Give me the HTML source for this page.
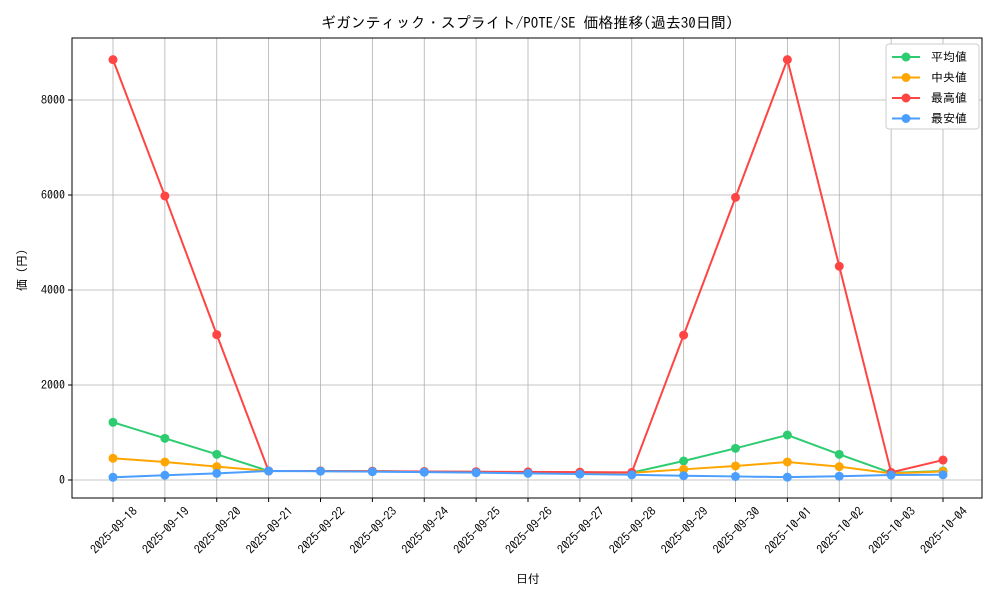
<!DOCTYPE html>
<html><head><meta charset="utf-8"><style>
body{margin:0;background:#fff}
svg text{font-family:"IPAGothic","Noto Sans CJK JP",sans-serif;fill:#000}
</style></head><body>
<svg id="chart" width="1000" height="600" xmlns="http://www.w3.org/2000/svg">
<rect width="1000" height="600" fill="#fff"/>
<text x="527" y="28" font-size="15" text-anchor="middle">ギガンティック・スプライト/POTE/SE 価格推移(過去30日間)</text>
<g id="grid"></g><g id="series"></g><g id="axes"></g>
<text x="528" y="583" font-size="12" text-anchor="middle">日付</text>
<text transform="translate(26,270) rotate(-90)" font-size="12" text-anchor="middle">価 (円)</text>
<g id="legend"></g>
</svg>
<script>
const categories=["2025-09-18","2025-09-19","2025-09-20","2025-09-21","2025-09-22","2025-09-23","2025-09-24","2025-09-25","2025-09-26","2025-09-27","2025-09-28","2025-09-29","2025-09-30","2025-10-01","2025-10-02","2025-10-03","2025-10-04"];
const avgValues=[1215,877,540,190,190,185,175,170,165,160,155,400,667,947,540,150,190];
const medianValues=[457,379,281,190,190,185,175,170,165,160,150,225,295,379,281,140,180];
const maxValues=[8850,5980,3060,190,190,185,180,175,170,165,160,3050,5950,8850,4500,160,420];
const minValues=[57,100,140,190,185,175,165,155,140,125,110,90,75,60,80,105,110];
const yTicks=[0,2000,4000,6000,8000];
const seriesNames=["平均値","中央値","最高値","最安値"];
const NS="http://www.w3.org/2000/svg";
const L=72,R=982,T=38,B=498;
const xs=i=>113+i*(943-113)/(categories.length-1);
const ys=v=>480-v*(380/8000);
function mk(tag,attrs,parent){const e=document.createElementNS(NS,tag);for(const k in attrs)e.setAttribute(k,attrs[k]);parent.appendChild(e);return e;}
const grid=document.getElementById('grid'),axes=document.getElementById('axes'),ser=document.getElementById('series'),leg=document.getElementById('legend');
categories.forEach((c,i)=>{
  const g=mk('line',{x1:xs(i),x2:xs(i),y1:T,y2:B,stroke:'#b0b0b0','stroke-width':0.8},grid);
  
  
  mk('line',{x1:xs(i),x2:xs(i),y1:B,y2:B+4,stroke:'#000'},axes);
  const t=mk('text',{x:0,y:0,'font-size':12,'text-anchor':'end',transform:`translate(${xs(i)+25},${B+14}) rotate(-45)`},axes);
  t.textContent=c;
  
  
});
yTicks.forEach(v=>{
  const g=mk('line',{x1:L,x2:R,y1:ys(v),y2:ys(v),stroke:'#b0b0b0','stroke-width':0.8},grid);
  
  
  mk('line',{x1:L-4,x2:L,y1:ys(v),y2:ys(v),stroke:'#000'},axes);
  const t=mk('text',{x:L-7,y:ys(v)+4,'font-size':12,'text-anchor':'end'},axes);
  t.textContent=v;
  
  
});
const fr=mk('rect',{x:L,y:T,width:R-L,height:B-T,fill:'none',stroke:'#000','stroke-width':1},axes);


const all=[[avgValues,'#2ecc71','average-line'],[medianValues,'#ffa500','median-line'],[maxValues,'#ff4444','max-line'],[minValues,'#4a9eff','min-line']];
all.forEach(([vals,col,name])=>{
  const p=mk('polyline',{points:vals.map((v,i)=>xs(i)+','+ys(v)).join(' '),fill:'none',stroke:col,'stroke-width':2},ser);
  
  
  vals.forEach((v,i)=>{
    const c=mk('circle',{cx:xs(i),cy:ys(v),r:4.5,fill:col},ser);
    
    
  });
});
const lb=mk('rect',{x:886,y:44,width:93,height:85,rx:3,fill:'#fff',stroke:'#ccc'},leg);


all.forEach(([v,col],k)=>{
  const y=57+k*20.5;
  mk('line',{x1:892,x2:920,y1:y,y2:y,stroke:col,'stroke-width':2},leg);
  mk('circle',{cx:906,cy:y,r:4.5,fill:col},leg);
  const t=mk('text',{x:931,y:y+4,'font-size':12},leg);
  t.textContent=seriesNames[k];
  
  
});
</script>
</body></html>
